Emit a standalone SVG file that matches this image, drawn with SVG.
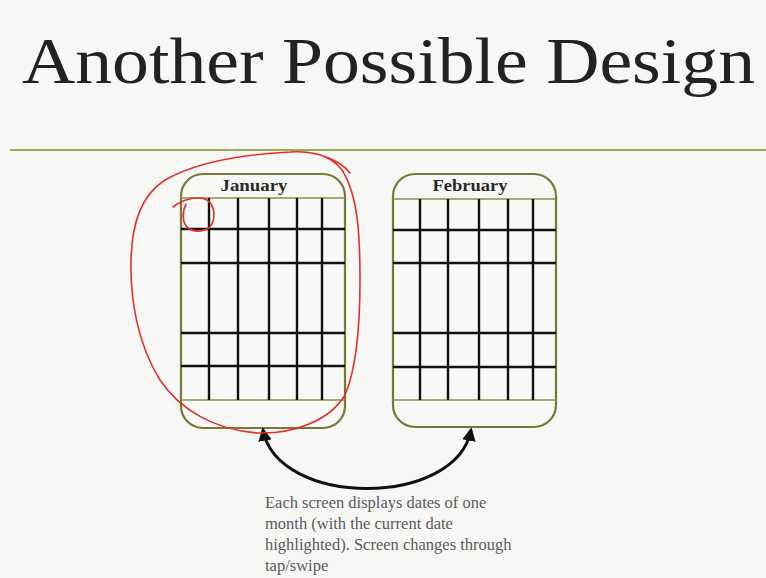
<svg xmlns="http://www.w3.org/2000/svg" width="766" height="578" viewBox="0 0 766 578">
<defs>
<style>
.bg{fill:#f7f7f6}
.title{font-family:"Liberation Serif",serif;font-size:66px;fill:#222}
.screen{fill:#f8f8f6;stroke:#777a34;stroke-width:2.2}
.sep{stroke:#8c8e48;stroke-width:1.6}
.grid{stroke:#111;stroke-width:2.4}
.month{font-family:"Liberation Serif",serif;font-size:16px;font-weight:bold;fill:#2a2a2a;text-anchor:middle}
.note{font-family:"Liberation Serif",serif;font-size:16.5px;fill:#5a5a5a}
.ink{fill:none;stroke:#e0302c;stroke-width:1.6;stroke-linecap:round;stroke-linejoin:round}
</style>
<marker id="ah" viewBox="0 0 10 10" refX="8" refY="5" markerWidth="4.5" markerHeight="4.5" orient="auto-start-reverse">
<path d="M0,0 L10,5 L0,10 z" fill="#111"/>
</marker>
</defs>
<rect class="bg" x="0" y="0" width="766" height="578"/>
<text class="title" x="22" y="83" textLength="733" lengthAdjust="spacingAndGlyphs">Another Possible Design</text>
<line x1="10" y1="150" x2="766" y2="150" stroke="#9aab5c" stroke-width="2.2"/>

<g id="january">
<rect class="screen" x="181" y="174" width="164" height="254" rx="22"/>
<text class="month" x="254" y="191" textLength="67" lengthAdjust="spacingAndGlyphs">January</text>
<line class="sep" x1="181" y1="198" x2="345" y2="198"/>
<line class="sep" x1="181" y1="400" x2="345" y2="400"/>
<g class="grid">
<line x1="181" y1="229" x2="345" y2="229"/>
<line x1="181" y1="263" x2="345" y2="263"/>
<line x1="181" y1="333" x2="345" y2="333"/>
<line x1="181" y1="366" x2="345" y2="366"/>
<line x1="209" y1="198" x2="209" y2="400"/>
<line x1="238" y1="198" x2="238" y2="400"/>
<line x1="269" y1="198" x2="269" y2="400"/>
<line x1="297" y1="198" x2="297" y2="400"/>
<line x1="322" y1="198" x2="322" y2="400"/>
</g>
</g>

<g id="february">
<rect class="screen" x="393" y="174" width="163" height="253" rx="22"/>
<text class="month" x="470" y="191" textLength="75" lengthAdjust="spacingAndGlyphs">February</text>
<line class="sep" x1="393" y1="199" x2="556" y2="199"/>
<line class="sep" x1="393" y1="400" x2="556" y2="400"/>
<g class="grid">
<line x1="393" y1="230" x2="556" y2="230"/>
<line x1="393" y1="263" x2="556" y2="263"/>
<line x1="393" y1="333" x2="556" y2="333"/>
<line x1="393" y1="367" x2="556" y2="367"/>
<line x1="420" y1="199" x2="420" y2="400"/>
<line x1="448" y1="199" x2="448" y2="400"/>
<line x1="479" y1="199" x2="479" y2="400"/>
<line x1="508" y1="199" x2="508" y2="400"/>
<line x1="533" y1="199" x2="533" y2="400"/>
</g>
</g>

<g id="connectors">
<path d="M263,430 C278,508 456,508 471,430" fill="none" stroke="#111" stroke-width="3" marker-start="url(#ah)" marker-end="url(#ah)"/>
</g>

<g id="note">
<text class="note" x="265" y="508">Each screen displays dates of one</text>
<text class="note" x="265" y="529">month (with the current date</text>
<text class="note" x="265" y="550">highlighted). Screen changes through</text>
<text class="note" x="265" y="571">tap/swipe</text>
</g>

<g id="annotation">
<path class="ink" d="M350,173 C340,160 315,150 290,152 C250,154 200,160 165,180 C140,196 132,225 131,260 C130,300 138,345 160,380 C180,410 215,430 258,433 C295,434 330,420 345,395 C358,365 360,320 360,280 C360,235 358,195 342,170 C330,155 312,152 300,152"/>
<path class="ink" d="M173,207 C182,200 195,196 205,199 C214,203 216,215 212,224 C207,232 195,233 188,228 C182,223 182,212 186,204"/>
</g>
</svg>
